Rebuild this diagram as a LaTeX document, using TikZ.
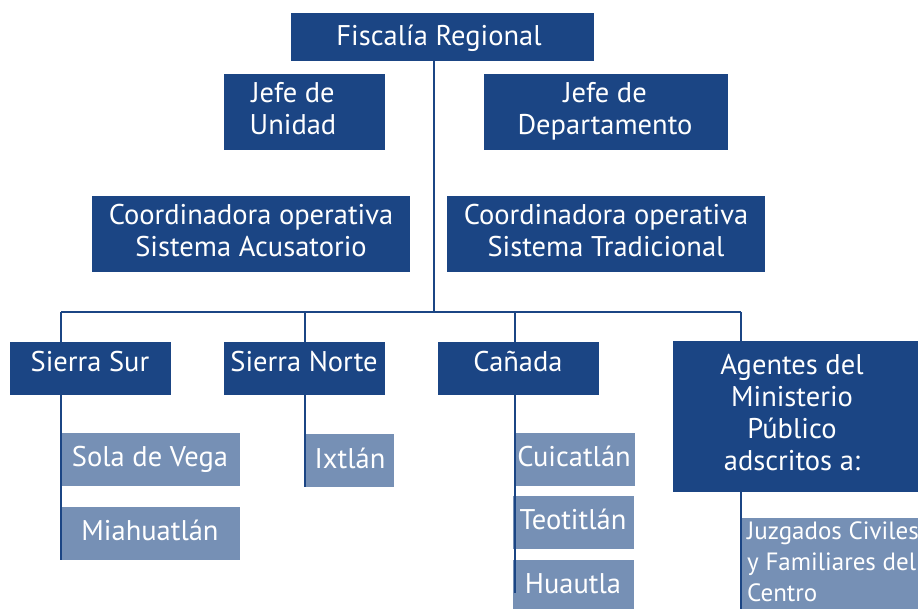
\documentclass[tikz,border=0pt]{standalone}
\usepackage{fontspec}
\setmainfont{PT Sans}
\definecolor{dkblue}{HTML}{1B4584}
\definecolor{ltblue}{HTML}{7690B5}
\begin{document}
\begin{tikzpicture}[x=1pt,y=-1pt,
  dkbox/.style={draw=none,fill=dkblue,inner sep=0pt},
  ltbox/.style={draw=none,fill=ltblue,inner sep=0pt},
  txt/.style={text=white,font=\fontsize{28.5}{32}\selectfont,inner sep=0pt,align=center,anchor=base},
  conn/.style={draw=dkblue,line width=2.2pt}]
\useasboundingbox (0,0) rectangle (918,609);
\clip (0,0) rectangle (918,609);
% boxes
\node[dkbox,minimum width=303pt,minimum height=48pt] (fr) at (442.5,37) {};
\node[dkbox,minimum width=161pt,minimum height=76pt] (ju) at (304.5,112) {};
\node[dkbox,minimum width=244pt,minimum height=76pt] (jd) at (606,112) {};
\node[dkbox,minimum width=318pt,minimum height=76pt] (ca) at (251,234) {};
\node[dkbox,minimum width=318pt,minimum height=76pt] (ct) at (606,234) {};
\node[ltbox,minimum width=178pt,minimum height=53pt] (sv) at (151,459.5) {};
\node[ltbox,minimum width=178pt,minimum height=53pt] (mi) at (151,533.5) {};
\node[ltbox,minimum width=89pt,minimum height=53pt] (ix) at (349.5,460.5) {};
\node[ltbox,minimum width=120pt,minimum height=53pt] (cu) at (575,459.5) {};
\node[ltbox,minimum width=121pt,minimum height=53pt] (te) at (573.5,522.5) {};
\node[ltbox,minimum width=121pt,minimum height=60pt] (hu) at (573.5,590) {};
\node[ltbox,minimum width=177pt,minimum height=91pt] (jz) at (829.5,563.5) {};
% connectors
\coordinate (top) at (434,61);
\coordinate (busM) at (434,312);
\coordinate (busL) at (61,312);
\coordinate (busR) at (741,312);
\coordinate (busSN) at (305,312);
\coordinate (busCN) at (515,312);
\coordinate (ssEnd) at (61,560);
\coordinate (snEnd) at (305,487);
\coordinate (cnEnd) at (515,593);
\coordinate (agEnd) at (741,609);
\draw[conn] (top) -- (busM);
\draw[conn] (busL) -- (busR);
\draw[conn] (busL) -- (ssEnd);
\draw[conn] (busSN) -- (snEnd);
\draw[conn] (busCN) -- (cnEnd);
\draw[conn] (busR) -- (agEnd);
% dark boxes of level 3 on top
\node[dkbox,minimum width=161pt,minimum height=53pt] (ss) at (90.5,368.5) {};
\node[dkbox,minimum width=161pt,minimum height=53pt] (sn) at (304.5,368.5) {};
\node[dkbox,minimum width=161pt,minimum height=53pt] (cn) at (518.5,368.5) {};
\node[dkbox,minimum width=245pt,minimum height=151pt] (ag) at (795.5,416.5) {};
% texts (base = baseline of last line)
\node[txt] (tfr) at (439,46) {Fiscalía Regional};
\node[txt] (tju) at (293,135) {Jefe de\\Unidad};
\node[txt] (tjd) at (605,135) {Jefe de\\Departamento};
\node[txt] (tca) at (251,257) {Coordinadora operativa\\Sistema Acusatorio};
\node[txt] (tct) at (606,257) {Coordinadora operativa\\Sistema Tradicional};
\node[txt] (tss) at (90,372) {Sierra Sur};
\node[txt] (tsn) at (304,372) {Sierra Norte};
\node[txt] (tcn) at (518,372) {Cañada};
\node[txt] (tag) at (792,470) {Agentes del\\Ministerio\\Público\\adscritos a:};
\node[txt] (tsv) at (150,466) {Sola de Vega};
\node[txt] (tmi) at (150,540) {Miahuatlán};
\node[txt] (tix) at (350,468) {Ixtlán};
\node[txt] (tcu) at (574,466) {Cuicatlán};
\node[txt] (tte) at (573,529) {Teotitlán};
\node[txt] (thu) at (573,593) {Huautla};
\node[txt,font=\fontsize{25}{31}\selectfont,align=left,anchor=base west] (tjz) at (747,601) {Juzgados Civiles\\y Familiares del\\Centro};
\end{tikzpicture}
\end{document}
